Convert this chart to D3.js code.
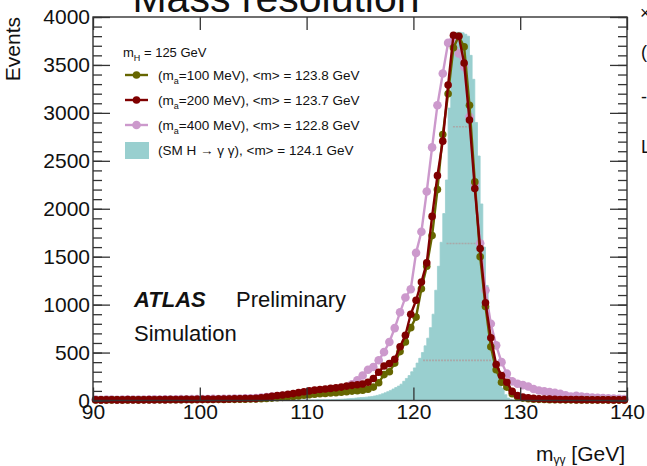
<!DOCTYPE html>
<html>
<head>
<meta charset="utf-8">
<script src="https://cdn.jsdelivr.net/npm/d3@7"></script>
<style>
  html, body { margin: 0; padding: 0; background: #fff; }
  svg { display: block; }
  text { font-family: "Liberation Sans", Arial, Helvetica, sans-serif; fill: #111; }
</style>
</head>
<body>
<svg id="chart" width="647" height="466"></svg>
<script>
// Diphoton invariant mass, 0.5 GeV bins from 90 to 140 GeV (values at bin centres)
const binLow = 90, binWidth = 0.5;

// m_a = 100 MeV
const ma100 = [
  5,6,5,6,7,5,6,7,6,7,
  7,8,7,8,9,8,9,10,9,10,
  10,11,10,12,11,13,12,14,13,15,
  16,18,21,25,29,33,38,43,48,54,
  60,65,70,74,78,82,87,92,98,102,
  108,118,140,185,270,300,390,510,610,760,
  870,1165,1400,1720,2200,2775,3200,3680,3800,3690,
  3080,2280,1500,980,560,320,190,140,70,40,
  25,18,14,12,10,9,8,8,7,7,
  6,6,6,5,5,6,5,5,4,5
];

// m_a = 200 MeV
const ma200 = [
  8,6,7,8,6,7,9,8,7,8,
  9,8,10,9,10,11,10,12,11,12,
  12,14,13,15,14,16,17,18,20,21,
  22,28,35,45,52,58,65,72,82,92,
  100,108,115,120,126,132,140,150,158,165,
  172,190,230,295,360,385,430,560,680,900,
  1045,1235,1435,1920,2345,2705,3290,3810,3800,3520,
  2925,2210,1585,1020,655,375,260,190,95,52,
  35,28,22,18,15,14,12,11,10,10,
  9,9,8,8,7,8,7,6,7,6
];

// m_a = 400 MeV
const ma400 = [
  10,8,9,10,8,9,11,9,10,11,
  10,12,11,12,13,12,14,13,15,14,
  15,16,17,16,18,19,20,21,22,24,
  25,30,35,40,45,50,55,60,65,70,
  78,88,97,100,105,110,120,135,170,210,
  260,320,350,420,505,610,755,920,1075,1160,
  1540,1760,2180,2640,3080,3410,3730,3760,3620,3480,
  2960,2260,1640,1150,800,575,400,280,200,175,
  160,146,120,104,95,87,80,70,55,42,
  50,40,35,30,28,25,22,20,18,15
];

// SM H -> gamma gamma, 0.25 GeV bins from 108 to 132 GeV
const smLow = 108, smWidth = 0.25;
const smHgg = [
  2,2,3,3,3,4,4,5,
  5,5,6,6,7,7,8,8,
  9,10,11,12,13,14,16,18,
  20,22,25,28,30,32,35,38,
  42,47,53,60,70,80,92,105,
  120,135,150,170,200,230,260,300,
  340,390,440,500,570,650,760,900,
  1150,1400,1650,1950,2300,3050,3600,3830,
  3840,3840,3835,3820,3800,3600,3350,2900,
  2550,2050,1600,1200,700,480,400,330,
  200,130,60,25,12,6,4,3,
  2,2,2,1,1,1,1,1
];

// dotted grey levels inside the SM histogram: [events, from GeV, to GeV]
const greyLevels = [[2855, 123.7, 125.15], [1637, 123.1, 125.9], [418, 120.9, 127.35]];

const xTicks = [90, 100, 110, 120, 130, 140];
const yTicks = [0, 500, 1000, 1500, 2000, 2500, 3000, 3500, 4000];
const yMinor = d3.range(0, 4001, 100);

const series = [
  { name: "ma400", label: "400", mean: "122.8", values: ma400, color: "#cc99cc", r: 4.3 },
  { name: "ma100", label: "100", mean: "123.8", values: ma100, color: "#666600", r: 3.8 },
  { name: "ma200", label: "200", mean: "123.7", values: ma200, color: "#7f0000", r: 3.8 }
];
const legendOrder = ["ma100", "ma200", "ma400"];

const svg = d3.select("#chart");
const x = d3.scaleLinear().domain([90, 140]).range([93, 627]);
const y = d3.scaleLinear().domain([0, 4000]).range([400.5, 17]);

// SM histogram as a filled step outline
const smPts = [[smLow, 0]];
smHgg.forEach((v, i) => {
  smPts.push([smLow + i * smWidth, v]);
  smPts.push([smLow + (i + 1) * smWidth, v]);
});
smPts.push([smLow + smHgg.length * smWidth, 0]);
svg.append("path")
  .attr("d", d3.line().x(d => x(d[0])).y(d => y(d[1]))(smPts))
  .attr("fill", "#99cfcf")
  .attr("stroke", "#99cfcf")
  .attr("stroke-width", 0.8);

svg.selectAll("line.grey").data(greyLevels).join("line")
  .attr("class", "grey")
  .attr("x1", d => x(d[1])).attr("x2", d => x(d[2]))
  .attr("y1", d => y(d[0])).attr("y2", d => y(d[0]))
  .attr("stroke", "#a9a9a9").attr("stroke-width", 1.6)
  .attr("stroke-dasharray", "2,1");

// Signal curves with markers
series.forEach(s => {
  const pts = s.values.map((v, i) => [binLow + (i + 0.5) * binWidth, v]);
  const g = svg.append("g").attr("class", s.name);
  g.append("path")
    .attr("d", d3.line().x(d => x(d[0])).y(d => y(d[1]))(pts))
    .attr("fill", "none")
    .attr("stroke", s.color)
    .attr("stroke-width", 2.4);
  g.selectAll("circle").data(pts).join("circle")
    .attr("cx", d => x(d[0])).attr("cy", d => y(d[1]))
    .attr("r", s.r).attr("fill", s.color);
});

// Axes: ticks drawn inward on all four sides
const frame = svg.append("g").attr("class", "frame");
const tickStyle = g => {
  g.select(".domain").remove();
  g.selectAll(".tick line").attr("stroke", "#333").attr("stroke-width", 1.3);
  g.selectAll(".tick text").attr("font-size", 21).attr("fill", "#111")
    .attr("font-family", "'Liberation Sans', Arial, sans-serif");
};

frame.append("g").attr("transform", "translate(93,0)")
  .call(d3.axisLeft(y).tickValues(yMinor).tickFormat("").tickSizeInner(-9).tickSizeOuter(0)).call(tickStyle);
frame.append("g").attr("transform", "translate(93,0)")
  .call(d3.axisLeft(y).tickValues(yTicks).tickFormat(d3.format("d")).tickSizeInner(-17).tickSizeOuter(0).tickPadding(3)).call(tickStyle);
frame.append("g").attr("transform", "translate(627,0)")
  .call(d3.axisRight(y).tickValues(yMinor).tickFormat("").tickSizeInner(-9).tickSizeOuter(0)).call(tickStyle);
frame.append("g").attr("transform", "translate(627,0)")
  .call(d3.axisRight(y).tickValues(yTicks).tickFormat("").tickSizeInner(-17).tickSizeOuter(0)).call(tickStyle);
frame.append("g").attr("transform", "translate(0,400.5)")
  .call(d3.axisBottom(x).tickValues(xTicks).tickFormat(d3.format("d")).tickSizeInner(-13).tickSizeOuter(0).tickPadding(4)).call(tickStyle);
frame.append("g").attr("transform", "translate(0,17)")
  .call(d3.axisTop(x).tickValues(xTicks).tickFormat("").tickSizeInner(-13).tickSizeOuter(0)).call(tickStyle);

frame.append("rect")
  .attr("x", x(90)).attr("y", y(4000))
  .attr("width", x(140) - x(90)).attr("height", y(0) - y(4000))
  .attr("fill", "none").attr("stroke", "#333").attr("stroke-width", 1.4);

// Axis titles
svg.append("text")
  .attr("transform", "translate(19.5,17) rotate(-90)")
  .attr("text-anchor", "end").attr("font-size", 21)
  .text("Events");

const xt = svg.append("text")
  .attr("x", 625).attr("y", 461).attr("text-anchor", "end").attr("font-size", 21);
xt.append("tspan").text("m");
xt.append("tspan").attr("font-size", 12).attr("dy", 3).text("γγ");
xt.append("tspan").attr("dy", -3).text(" [GeV]");

// Plot title (top of canvas)
svg.append("text")
  .attr("x", 276).attr("y", 12).attr("text-anchor", "middle").attr("font-size", 41)
  .text("Mass resolution");

// Neighbouring axis glyphs at the right margin
const edge = svg.append("g").attr("font-size", 18);
edge.append("text").attr("x", 640).attr("y", 19).text("×");
edge.append("text").attr("x", 641).attr("y", 58).text("(");
edge.append("text").attr("x", 641).attr("y", 103).text("-");
edge.append("text").attr("x", 641).attr("y", 153).text("L");

// ATLAS label
svg.append("text").attr("x", 134).attr("y", 307).attr("font-size", 22)
  .attr("font-weight", "bold").attr("font-style", "italic").text("ATLAS");
svg.append("text").attr("x", 236).attr("y", 307).attr("font-size", 22).text("Preliminary");
svg.append("text").attr("x", 134).attr("y", 341).attr("font-size", 22).text("Simulation");

// Legend
const leg = svg.append("g").attr("font-size", 13.5);
const mh = leg.append("text").attr("x", 123).attr("y", 57).attr("font-size", 13);
mh.append("tspan").text("m");
mh.append("tspan").attr("font-size", 9).attr("dy", 4).text("H");
mh.append("tspan").attr("dy", -4).text(" = 125 GeV");

legendOrder.forEach((name, i) => {
  const s = series.find(d => d.name === name);
  const cy = 75 + i * 25;
  leg.append("line").attr("x1", 125).attr("x2", 148).attr("y1", cy).attr("y2", cy)
    .attr("stroke", s.color).attr("stroke-width", 2.4);
  leg.append("circle").attr("cx", 136.5).attr("cy", cy).attr("r", s.r).attr("fill", s.color);
  const t = leg.append("text").attr("x", 158).attr("y", cy + 5);
  t.append("tspan").text("(m");
  t.append("tspan").attr("font-size", 9).attr("dy", 4).text("a");
  t.append("tspan").attr("dy", -4).text(`=${s.label} MeV), <m> = ${s.mean} GeV`);
});
leg.append("rect").attr("x", 125).attr("y", 142).attr("width", 24).attr("height", 17)
  .attr("fill", "#99cfcf");
leg.append("text").attr("x", 158).attr("y", 155)
  .text("(SM H → γ γ), <m>  = 124.1 GeV");
</script>
</body>
</html>
